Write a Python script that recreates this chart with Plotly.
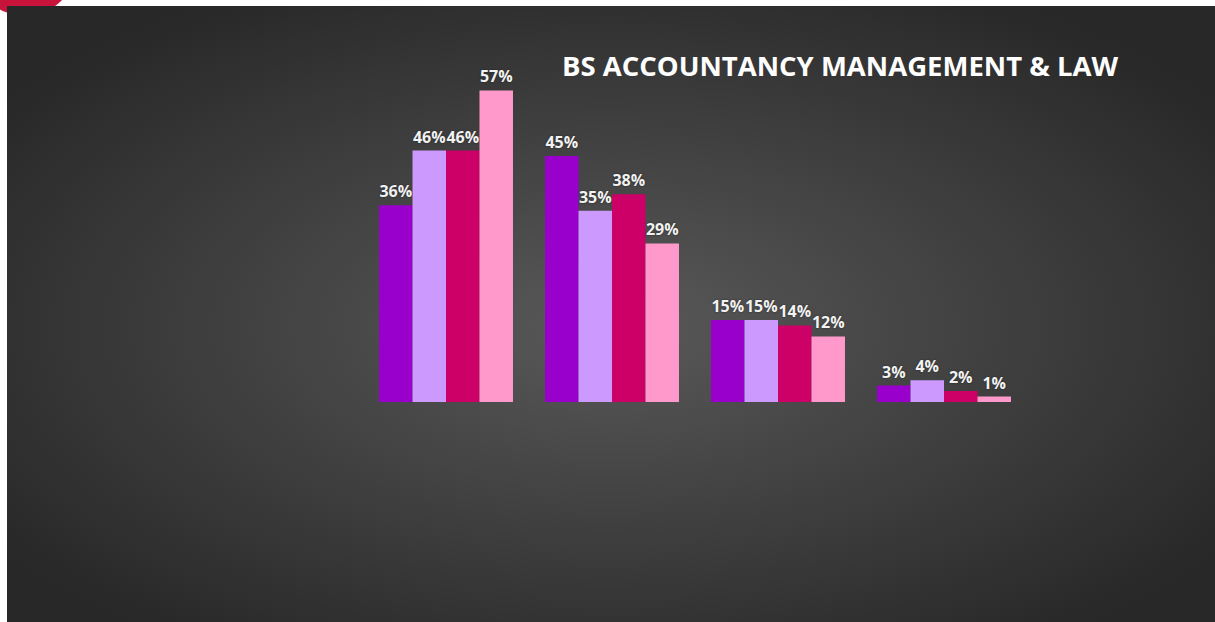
import base64
import plotly.graph_objects as go

# ---- data ----
categories = ["Category 1", "Category 2", "Category 3", "Category 4"]
series_names = ["Series 1", "Series 2", "Series 3", "Series 4"]
series_values = [
    [36, 45, 15, 3],
    [46, 35, 15, 4],
    [46, 38, 14, 2],
    [57, 29, 12, 1],
]
series_colors = ["#9900CC", "#CC99FF", "#CC0066", "#FF99CC"]
title_text = "BS ACCOUNTANCY MANAGEMENT & LAW"

W, H = 1215, 622
L, R, T, B = 363, 188, 74, 220
pw, ph = W - L - R, H - T - B

fig = go.Figure()
for name, vals, col in zip(series_names, series_values, series_colors):
    fig.add_trace(go.Bar(
        name=name, x=categories, y=vals,
        marker=dict(color=col, line=dict(width=0)),
        text=[f"{v}%" for v in vals],
        textposition="outside",
        textfont=dict(family="Open Sans", size=16, color="#F2F2F2", weight="bold",
                      shadow="0px 0px 2px #222"),
        cliponaxis=False,
        constraintext="none",
    ))

# background: white page, red corner mark, dark panel with radial gradient
svg = (
    f"<svg xmlns='http://www.w3.org/2000/svg' width='{W}' height='{H}' viewBox='0 0 {W} {H}'>"
    "<defs><radialGradient id='g' cx='50%' cy='52%' r='62%'>"
    "<stop offset='0' stop-color='#595959'/>"
    "<stop offset='1' stop-color='#282828'/>"
    "</radialGradient></defs>"
    f"<rect width='{W}' height='{H}' fill='#ffffff'/>"
    "<circle cx='25' cy='-35' r='51' fill='#C8143A'/>"
    f"<rect x='7' y='6' width='{W-7}' height='{H-6}' fill='url(#g)'/>"
    "</svg>"
)
src = "data:image/svg+xml;base64," + base64.b64encode(svg.encode()).decode()

fig.add_layout_image(dict(
    source=src, xref="paper", yref="paper",
    x=(0 - L) / pw, y=(H - B) / ph,
    sizex=W / pw, sizey=H / ph,
    xanchor="left", yanchor="top", sizing="stretch", layer="below",
))

fig.add_annotation(
    text=title_text, xref="paper", yref="paper",
    x=(839.5 - L) / pw, y=(H - B - 65) / ph,
    xanchor="center", yanchor="middle", showarrow=False,
    font=dict(family="Open Sans", size=27.5, color="#FFFFFF", weight="bold"),
)

fig.update_layout(
    width=W, height=H,
    margin=dict(l=L, r=R, t=T, b=B, pad=0),
    paper_bgcolor="#FFFFFF", plot_bgcolor="rgba(0,0,0,0)",
    barmode="group", bargap=0.193, bargroupgap=0,
    showlegend=False,
    xaxis=dict(visible=False, range=[-0.5, 3.5]),
    yaxis=dict(visible=False, range=[0, 60]),
)

fig.write_html(
    "out.html",
    config={"displayModeBar": False},
    post_script="document.body.style.margin='0';document.body.style.overflow='hidden';",
)
